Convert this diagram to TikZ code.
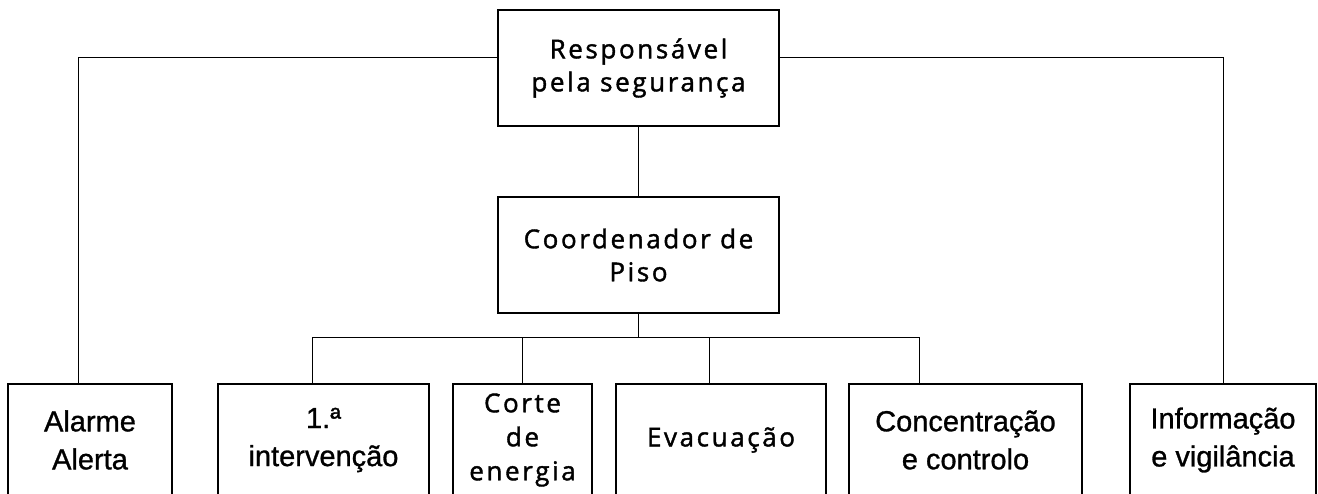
\documentclass[tikz,border=0pt]{standalone}
\usepackage{fontspec}
\setmainfont[FakeBold=1]{Liberation Sans}
\newfontfamily\humfont[LetterSpace=10,FakeBold=1.5]{Open Sans}
\usetikzlibrary{positioning}
\tikzset{x=1pt, y=-1pt, line width=2pt}
\tikzstyle{box}=[draw, line width=2pt, align=center, inner sep=0pt]
\tikzstyle{topbox}=[box, minimum width=281pt, minimum height=116pt, font=\humfont\fontsize{26}{33}\selectfont]
\tikzstyle{leafbox}=[box, minimum height=112pt, font=\fontsize{29}{38}\selectfont]
\tikzstyle{humleaf}=[leafbox, font=\humfont\fontsize{26}{34}\selectfont]

\begin{document}
\begin{tikzpicture}
\useasboundingbox (0,0) rectangle (1318,493);
% chefia
\node[topbox] (resp) at (638.5,68) {Responsável\\pela segurança};
\node[topbox] (coord) at (638.5,255) {Coordenador de\\Piso};
% equipas
\node[leafbox, minimum width=164pt] (alarme) at (90,440) {Alarme\\Alerta};
\node[leafbox, minimum width=211pt] (inter) at (323.5,440) {1.ª\\intervenção};
\node[humleaf, minimum width=139pt] (corte) at (522.5,440) {Corte\\de\\energia};
\node[humleaf, minimum width=210pt] (evac) at (721,440) {Evacuação};
\node[leafbox, minimum width=233pt] (conc) at (965.5,440) {Concentração\\e controlo};
\node[leafbox, minimum width=186pt] (info) at (1223,440) {Informação\\e vigilância};
% ligacoes
\coordinate (lt) at (78,57);
\coordinate (rt) at (1223,57);
\coordinate (busL) at (312,337);
\coordinate (busR) at (919,337);
\coordinate (evacTap) at (709,337);
\draw (resp.west |- lt) -- (lt) -- (lt |- alarme.north);
\draw (resp.east |- rt) -- (rt) -- (rt |- info.north);
\draw (resp.south) -- (coord.north);
\draw (coord.south) -- (coord.south |- busL);
\draw (busL |- inter.north) -- (busL) -- (busR) -- (busR |- conc.north);
\draw (corte.north |- busL) -- (corte.north);
\draw (evacTap) -- (evacTap |- evac.north);
\end{tikzpicture}
\end{document}
